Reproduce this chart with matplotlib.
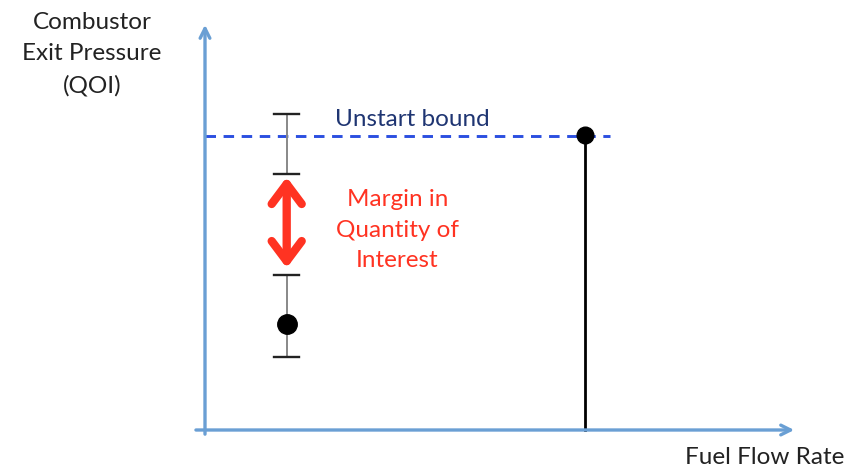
import matplotlib.pyplot as plt

# schematic values (arbitrary units, origin at the axes corner)
nominal_x = 1.38
nominal_y = 2.60
upper_band = (6.27, 7.75)   # error bar segment above margin arrow
lower_band = (1.79, 3.80)   # error bar segment around nominal point
margin_span = (3.97, 6.20)
bound_y = 7.20
bound_x = 6.42
bound_line_end = 6.84

AXIS_BLUE = "#6a9fd4"
DASH_BLUE = "#2b4fe0"
NAVY = "#1f3572"
RED = "#ff3322"

plt.rcParams["font.family"] = ["Lato", "DejaVu Sans"]

W, H = 859, 468
fig = plt.figure(figsize=(W / 100, H / 100), dpi=100)
ax = fig.add_axes([205 / W, 38 / H, 592 / W, 408 / H])
ax.set_xlim(0, 10)
ax.set_ylim(0, 10)
ax.axis("off")

# axes with arrows
ax.annotate("", xy=(0, 10), xytext=(0, -0.17), annotation_clip=False,
            arrowprops=dict(arrowstyle="->,head_length=0.7,head_width=0.35",
                            color=AXIS_BLUE, lw=2.4))
ax.annotate("", xy=(10, 0), xytext=(-0.2, 0), annotation_clip=False,
            arrowprops=dict(arrowstyle="->,head_length=0.7,head_width=0.35",
                            color=AXIS_BLUE, lw=2.4))

# unstart bound
ax.plot([0, bound_line_end], [bound_y, bound_y], ls=(0, (3.6, 2.6)), color=DASH_BLUE,
        lw=2.1, clip_on=False)
ax.plot([bound_x, bound_x], [0, bound_y], color="black", lw=2.0, clip_on=False)
ax.plot(bound_x, bound_y + 0.04, "o", color="black", ms=12, clip_on=False)
ax.text(3.5, 7.62, "Unstart bound", color=NAVY, fontsize=17.5, ha="center", va="center")

# error bar segments
for lo, hi in (upper_band, lower_band):
    ax.plot([nominal_x, nominal_x], [lo, hi], color="#888888", lw=1.4)
    for y in (lo, hi):
        ax.plot([nominal_x - 0.21, nominal_x + 0.21], [y, y], color="#222222", lw=1.7)
ax.plot(nominal_x, nominal_y, "o", color="black", ms=14)

# margin arrow
ax.annotate("", xy=(nominal_x, margin_span[1]), xytext=(nominal_x, margin_span[0]),
            arrowprops=dict(arrowstyle="<->,head_length=0.8,head_width=0.6",
                            color=RED, lw=6, mutation_scale=18,
                            shrinkA=0, shrinkB=0))
ax.text(3.25, 4.9, "Margin in\nQuantity of\nInterest", color=RED, fontsize=17.5,
        ha="center", va="center", linespacing=1.55)

# axis labels
fig.text(92 / W, 1 - 54 / H, "Combustor\nExit Pressure\n(QOI)", fontsize=17.5,
         ha="center", va="center", color="#222222", linespacing=1.6)
fig.text(765 / W, 1 - 458 / H, "Fuel Flow Rate", fontsize=17.5, ha="center",
         va="center", color="#222222")

fig.savefig("out.png", dpi=100)
